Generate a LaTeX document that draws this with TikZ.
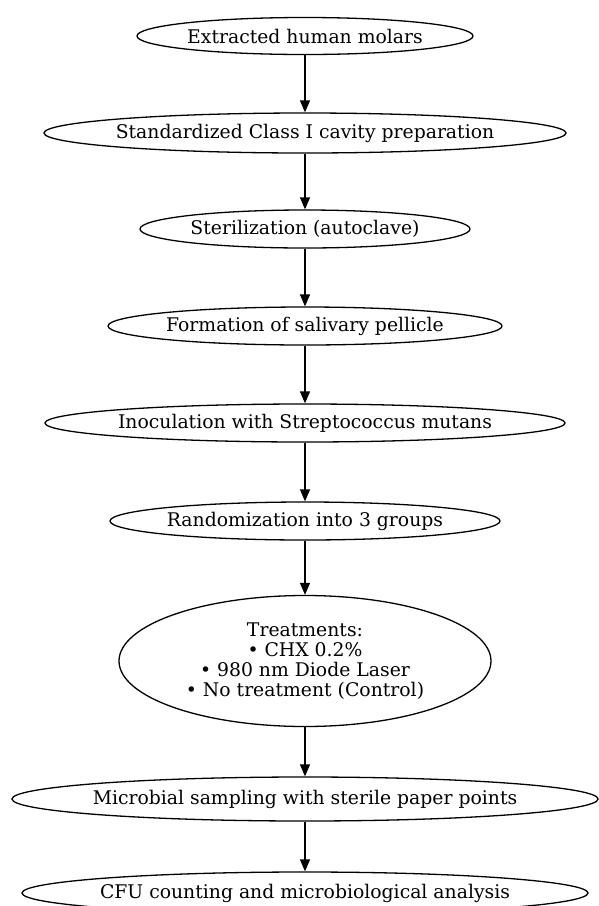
\documentclass[tikz,border=0pt]{standalone}
\usepackage{fontspec}
\setmainfont{DejaVu Serif}
\usetikzlibrary{shapes.geometric,arrows.meta}

\begin{document}
\begin{tikzpicture}[x=1pt,y=-1pt,
    stage/.style={ellipse,draw,line width=1.3pt,inner xsep=-5pt,inner ysep=0pt,
      font=\fontsize{18.8}{20}\selectfont,align=center},
    flow/.style={line width=1.3pt,-{Triangle[length=12pt,width=10pt]}}]
    \useasboundingbox (0,0) rectangle (598,906);
    % one ellipse per stage, top to bottom
    \node[stage,minimum width=336,minimum height=37] (molars) at (305,36) {Extracted human molars};
    \node[stage,minimum width=522,minimum height=40] (cavity) at (305,133) {Standardized Class I cavity preparation};
    \node[stage,minimum width=330,minimum height=38] (steril) at (305,229) {Sterilization (autoclave)};
    \node[stage,minimum width=394,minimum height=38] (pellicle) at (305,326) {Formation of salivary pellicle};
    \node[stage,minimum width=520,minimum height=38] (inoc) at (305,423) {Inoculation with Streptococcus mutans};
    \node[stage,minimum width=390,minimum height=38] (random) at (305,521) {Randomization into 3 groups};
    \node[stage,minimum width=372,minimum height=131] (treat) at (305,661)
      {Treatments:\\• CHX 0.2\%\\• 980 nm Diode Laser\\• No treatment (Control)};
    \node[stage,minimum width=586,minimum height=44] (sampling) at (305,799) {Microbial sampling with sterile paper points};
    \node[stage,minimum width=566,minimum height=42] (cfu) at (305,893) {CFU counting and microbiological analysis};
    % connectors
    \foreach \a/\b in {molars/cavity,cavity/steril,steril/pellicle,pellicle/inoc,
      inoc/random,random/treat,treat/sampling,sampling/cfu}
      \draw[flow] (\a.south) -- (\b.north);
\end{tikzpicture}
\end{document}
